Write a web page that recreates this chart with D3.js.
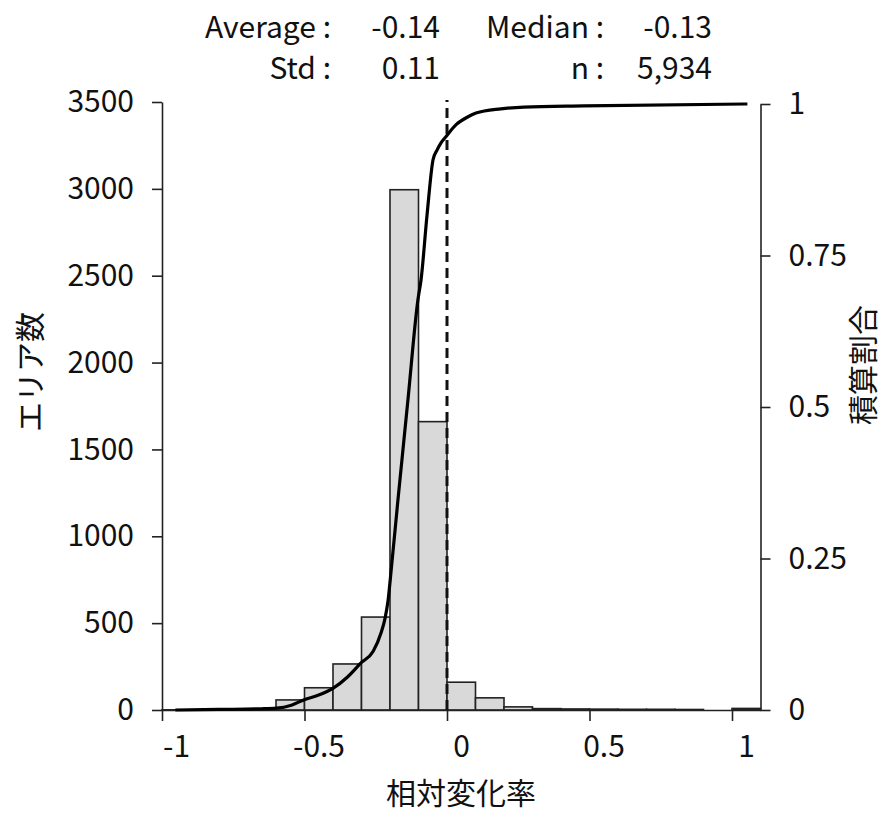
<!DOCTYPE html>
<html>
<head>
<meta charset="utf-8">
<script src="https://cdn.jsdelivr.net/npm/d3@7"></script>
<style>
  body { margin: 0; background: #fff; }
  svg text { font-family: "Noto Sans CJK JP", "Noto Sans", sans-serif; fill: #111; }
</style>
</head>
<body>
<svg id="grafico" width="884" height="813"></svg>
<script>
// histograma (inicio da classe, largura 0.1)
var binStart = [-1.0, -0.9, -0.8, -0.7, -0.6, -0.5, -0.4, -0.3, -0.2, -0.1, 0.0, 0.1, 0.2, 0.3, 0.4, 0.5, 0.6, 0.7, 0.8, 0.9, 1.0]
var binCount = [1, 0, 2, 3, 58, 128, 265, 535, 2995, 1660, 160, 70, 18, 8, 6, 5, 4, 4, 3, 0, 9]
var binWidth = 0.1

// curva acumulada
var cumX = [-0.953, -0.802, -0.651, -0.599, -0.546, -0.501, -0.448, -0.399, -0.350, -0.301, -0.259, -0.231, -0.218, -0.207, -0.195,
            -0.172, -0.137, -0.102, -0.091, -0.070, -0.049, -0.035, -0.021, -0.004, 0.032, 0.074, 0.102, 0.189, 0.270, 0.480, 1.054]
var cumY = [0.000, 0.001, 0.002, 0.003, 0.008, 0.017, 0.025, 0.036, 0.054, 0.078, 0.097, 0.128, 0.150, 0.180, 0.235,
            0.347, 0.512, 0.677, 0.710, 0.817, 0.908, 0.924, 0.936, 0.946, 0.966, 0.979, 0.985, 0.992, 0.995, 0.997, 1.000]

var xTicks = [-1, -0.5, 0, 0.5, 1]
var yLeftTicks = [0, 500, 1000, 1500, 2000, 2500, 3000, 3500]
var yRightTicks = [0, 0.25, 0.5, 0.75, 1]

var statLabels = [["Average :", "-0.14", "Median :", "-0.13"], ["Std :", "0.11", "n :", "5,934"]]
var refLine = 0

function desenhar_histograma() {
    var svg = d3.select('#grafico')

    var x = d3.scaleLinear().domain([-1, 1.1]).range([162, 760.5])
    var yL = d3.scaleLinear().domain([0, 3500]).range([710, 102])
    var yR = d3.scaleLinear().domain([0, 1]).range([710, 104])

    var data = binStart.map(function (d, i) {
        return { x0: d, x1: d + binWidth, n: binCount[i] }
    }).filter(function (d) { return d.n > 0 })

    // barras
    svg.append("g")
        .selectAll("rect")
        .data(data)
        .enter()
        .append("rect")
        .attr("x", function (d) { return x(d.x0) })
        .attr("width", function (d) { return x(d.x1) - x(d.x0) })
        .attr("y", function (d) { return yL(d.n) })
        .attr("height", function (d) { return yL(0) - yL(d.n) })
        .attr("fill", "#d9d9d9")
        .attr("stroke", "#222")
        .attr("stroke-width", 1.6)

    // eixos
    var fonte = "30px"
    var simples = function (d) { return String(d) }
    var gx = svg.append("g")
        .attr("transform", "translate(0," + yL(0) + ")")
        .call(d3.axisBottom(x).tickValues(xTicks).tickSize(11).tickSizeOuter(0).tickPadding(15).tickFormat(simples))
    gx.selectAll("text").attr("dx", 14).style("font-size", fonte)

    var gl = svg.append("g")
        .attr("transform", "translate(" + x(-1) + ",0)")
        .call(d3.axisLeft(yL).tickValues(yLeftTicks).tickSize(10).tickSizeOuter(0).tickPadding(18).tickFormat(simples))
    gl.selectAll("text").style("font-size", fonte)

    var gr = svg.append("g")
        .attr("transform", "translate(" + x(1.1) + ",0)")
        .call(d3.axisRight(yR).tickValues(yRightTicks).tickSize(10).tickSizeOuter(0).tickPadding(18).tickFormat(simples))
    gr.selectAll("text").style("font-size", fonte)

    svg.selectAll(".domain, .tick line").attr("stroke", "#222").attr("stroke-width", 1.6)

    // linha tracejada
    svg.append("line")
        .attr("x1", x(refLine)).attr("x2", x(refLine))
        .attr("y1", yL(0)).attr("y2", yL(3500) - 2)
        .attr("stroke", "#111")
        .attr("stroke-width", 3)
        .attr("stroke-dasharray", "10,6")

    // curva acumulada
    var linha = d3.line()
        .x(function (d, i) { return x(cumX[i]) })
        .y(function (d, i) { return yR(cumY[i]) })
        .curve(d3.curveMonotoneX)
    svg.append("path")
        .attr("d", linha(cumX))
        .attr("fill", "none")
        .attr("stroke", "#000")
        .attr("stroke-width", 3.2)

    // titulos
    svg.append("text")
        .attr("transform", "translate(28,372) rotate(-90)")
        .attr("text-anchor", "middle").attr("dominant-baseline", "central")
        .style("font-size", fonte)
        .text("エリア数")
    svg.append("text")
        .attr("transform", "translate(861,365) rotate(-90)")
        .attr("text-anchor", "middle").attr("dominant-baseline", "central")
        .style("font-size", fonte)
        .text("積算割合")
    svg.append("text")
        .attr("x", 461).attr("y", 791)
        .attr("text-anchor", "middle").attr("dominant-baseline", "central")
        .style("font-size", fonte)
        .text("相対変化率")

    // estatisticas
    var colX = [331, 440, 604, 712]
    statLabels.forEach(function (row, r) {
        row.forEach(function (t, c) {
            svg.append("text")
                .attr("x", colX[c]).attr("y", 25 + r * 41)
                .attr("text-anchor", "end").attr("dominant-baseline", "central")
                .style("font-size", fonte)
                .text(t)
        })
    })
}

desenhar_histograma()
</script>
</body>
</html>
